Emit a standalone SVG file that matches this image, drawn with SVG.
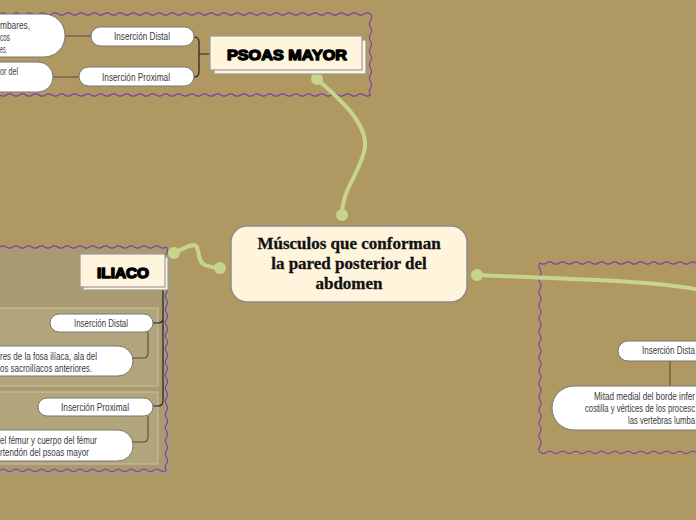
<svg xmlns="http://www.w3.org/2000/svg" width="696" height="520" viewBox="0 0 696 520">
<style>
.wave{fill:none;stroke:#7a3fa3;stroke-width:1.1}
.pill{fill:#fff;stroke:#777;stroke-width:1}
.main{fill:#fff4dc;stroke:#8c8c8c;stroke-width:1.5}
.sh{fill:#fff4dc;stroke:#9a9a9a;stroke-width:1.2}
.t{font-family:"Liberation Sans",Arial,sans-serif;font-size:10px;fill:#3a3a3a}
.h{font-family:"Liberation Sans",Arial,sans-serif;font-weight:bold;fill:#000;stroke:#000;stroke-width:1.4;stroke-linejoin:round}
.c{font-family:"Liberation Serif","Times New Roman",serif;font-weight:bold;font-size:17px;fill:#111;stroke:#111;stroke-width:0.3;text-anchor:middle}
.g{fill:none;stroke:#c6d58c;stroke-width:4;stroke-linecap:round}
.dot{fill:#c6d58c}
.br{fill:none;stroke:#222;stroke-width:1.2}
.ln{fill:none;stroke:#5b4d2e;stroke-width:1.1}
.panel{fill:#b2a47b;stroke:#cdc3a0;stroke-width:1}
</style>
<rect width="696" height="520" fill="#b09863"/>
<g id="frames">
<rect x="0" y="247" width="173" height="230" fill="#a99a71"/>
<rect class="panel" x="-2" y="308" width="160" height="78"/>
<rect class="panel" x="-2" y="392" width="160" height="72"/>
<path class="wave" d="M0,14 q3.25,-2.2 6.5,0 t6.5,0t6.5,0t6.5,0t6.5,0t6.5,0t6.5,0t6.5,0t6.5,0 t6.5,0t6.5,0t6.5,0t6.5,0t6.5,0t6.5,0t6.5,0t6.5,0 t6.5,0t6.5,0t6.5,0t6.5,0t6.5,0t6.5,0t6.5,0t6.5,0 t6.5,0t6.5,0t6.5,0t6.5,0t6.5,0t6.5,0t6.5,0t6.5,0 t6.5,0t6.5,0t6.5,0t6.5,0t6.5,0t6.5,0t6.5,0t6.5,0 t6.5,0t6.5,0t6.5,0t6.5,0t6.5,0t6.5,0t6.5,0t6.5,0 t6.5,0t6.5,0t6.5,0t6.5,0t6.5,0t6.5,0t6.5,0t6.5,0 q2.2,3.375 0,6.75 t0,6.75t0,6.75t0,6.75t0,6.75t0,6.75t0,6.75t0,6.75t0,6.75t0,6.75t0,6.75t0,6.75 q-3.25,2.2 -6.5,0 t-6.5,0t-6.5,0t-6.5,0t-6.5,0t-6.5,0t-6.5,0t-6.5,0t-6.5,0 t-6.5,0t-6.5,0t-6.5,0t-6.5,0t-6.5,0t-6.5,0t-6.5,0t-6.5,0 t-6.5,0t-6.5,0t-6.5,0t-6.5,0t-6.5,0t-6.5,0t-6.5,0t-6.5,0 t-6.5,0t-6.5,0t-6.5,0t-6.5,0t-6.5,0t-6.5,0t-6.5,0t-6.5,0 t-6.5,0t-6.5,0t-6.5,0t-6.5,0t-6.5,0t-6.5,0t-6.5,0t-6.5,0 t-6.5,0t-6.5,0t-6.5,0t-6.5,0t-6.5,0t-6.5,0t-6.5,0t-6.5,0 t-6.5,0t-6.5,0t-6.5,0t-6.5,0t-6.5,0t-6.5,0t-6.5,0t-6.5,0"/>
<path class="wave" d="M0,247 q3.2,-2.2 6.4,0 t6.4,0t6.4,0t6.4,0t6.4,0t6.4,0t6.4,0t6.4,0t6.4,0t6.4,0t6.4,0t6.4,0t6.4,0t6.4,0 t6.4,0t6.4,0t6.4,0t6.4,0t6.4,0t6.4,0t6.4,0t6.4,0t6.4,0t6.4,0t6.4,0t6.4,0 q2.2,3.285 0,6.57 t0,6.57t0,6.57t0,6.57t0,6.57t0,6.57t0,6.57t0,6.57t0,6.57t0,6.57 t0,6.57t0,6.57t0,6.57t0,6.57t0,6.57t0,6.57t0,6.57t0,6.57t0,6.57t0,6.57 t0,6.57t0,6.57t0,6.57t0,6.57t0,6.57t0,6.57t0,6.57t0,6.57t0,6.57t0,6.57 t0,6.57t0,6.57t0,6.57t0,6.57 q-3.2,2.2 -6.4,0 t-6.4,0t-6.4,0t-6.4,0t-6.4,0t-6.4,0t-6.4,0t-6.4,0t-6.4,0t-6.4,0t-6.4,0t-6.4,0t-6.4,0 t-6.4,0t-6.4,0t-6.4,0t-6.4,0t-6.4,0t-6.4,0t-6.4,0t-6.4,0t-6.4,0t-6.4,0t-6.4,0t-6.4,0t-6.4,0"/>
<path class="wave" d="M696,263 q-3.25,-2.2 -6.5,0 t-6.5,0t-6.5,0t-6.5,0t-6.5,0t-6.5,0t-6.5,0t-6.5,0t-6.5,0t-6.5,0t-6.5,0t-6.5,0 t-6.5,0t-6.5,0t-6.5,0t-6.5,0t-6.5,0t-6.5,0t-6.5,0t-6.5,0t-6.5,0t-6.5,0t-6.5,0t-6.5,0 q-2.2,3.265 0,6.53 t0,6.53t0,6.53t0,6.53t0,6.53t0,6.53t0,6.53t0,6.53t0,6.53t0,6.53 t0,6.53t0,6.53t0,6.53t0,6.53t0,6.53t0,6.53t0,6.53t0,6.53t0,6.53t0,6.53 t0,6.53t0,6.53t0,6.53t0,6.53t0,6.53t0,6.53t0,6.53t0,6.53t0,6.53 q3.25,2.2 6.5,0 t6.5,0t6.5,0t6.5,0t6.5,0t6.5,0t6.5,0t6.5,0t6.5,0t6.5,0t6.5,0t6.5,0 t6.5,0t6.5,0t6.5,0t6.5,0t6.5,0t6.5,0t6.5,0t6.5,0t6.5,0t6.5,0t6.5,0t6.5,0"/>
</g>
<g id="connectors">
<path class="g" d="M317,79 C335,95 372,125 364,152 C357,178 342,190 342,215"/>
<path class="g" d="M174,253 C185,248 192,243 196,246 C200,250 197,262 205,265 C210,267 215,268 220,268"/>
<path class="g" d="M477,275 C560,279 650,280 700,290"/>
<circle class="dot" cx="317" cy="79" r="6"/>
<circle class="dot" cx="342" cy="215" r="6"/>
<circle class="dot" cx="174" cy="253" r="6"/>
<circle class="dot" cx="220" cy="268" r="6"/>
<circle class="dot" cx="477" cy="275" r="6"/>
<path class="br" d="M210,54 H199 M194,37 Q199,37 199,42 V72 Q199,77 194,77"/>
<path class="ln" d="M91,36 H65 M79,77 H53"/>
<path class="br" d="M163,289 V401 Q163,406 158,406 H153 M153,323 H158 Q163,323 163,318"/>
<path class="ln" d="M148,332 V353 Q148,358 143,358 H133 M148,416 V437 Q148,442 143,442 H133"/>
<path class="ln" d="M670,361 V386"/>
</g>
<g id="center">
<rect class="main" x="231" y="226" width="236" height="76" rx="16"/>
<text class="c" x="349" y="249">Músculos que conforman</text>
<text class="c" x="349" y="269">la pared posterior del</text>
<text class="c" x="349" y="289">abdomen</text>
</g>
<g id="psoas">
<rect class="sh" x="214" y="40" width="152" height="34"/>
<rect class="sh" x="210" y="36" width="152" height="34"/>
<text class="h" x="227" y="60" font-size="15" textLength="120" lengthAdjust="spacingAndGlyphs">PSOAS MAYOR</text>
</g>
<g id="psoas-distal">
<rect class="pill" x="91" y="27" width="103" height="19" rx="9.5"/>
<text class="t" x="114" y="40" textLength="56" lengthAdjust="spacingAndGlyphs">Inserción Distal</text>
</g>
<g id="psoas-proximal">
<rect class="pill" x="79" y="67" width="115" height="19" rx="9.5"/>
<text class="t" x="102" y="81" textLength="68" lengthAdjust="spacingAndGlyphs">Inserción Proximal</text>
</g>
<g id="psoas-distal-text">
<rect class="pill" x="-60" y="14" width="125" height="43" rx="21"/>
<text class="t" x="0" y="29" textLength="30" lengthAdjust="spacingAndGlyphs">mbares,</text>
<text class="t" x="0" y="41" textLength="10" lengthAdjust="spacingAndGlyphs">cos</text>
<text class="t" x="0" y="53" textLength="7" lengthAdjust="spacingAndGlyphs">es.</text>
</g>
<g id="psoas-proximal-text">
<rect class="pill" x="-60" y="62" width="113" height="30" rx="15"/>
<text class="t" x="0" y="75" textLength="18" lengthAdjust="spacingAndGlyphs">or del</text>
</g>
<g id="iliaco">
<rect class="sh" x="83" y="257" width="85" height="33"/>
<rect class="sh" x="80" y="254" width="85" height="33"/>
<text class="h" x="97" y="278" font-size="14" textLength="52" lengthAdjust="spacingAndGlyphs">ILIACO</text>
</g>
<g id="iliaco-distal">
<rect class="pill" x="50" y="314" width="103" height="18" rx="9"/>
<text class="t" x="74" y="327" textLength="54" lengthAdjust="spacingAndGlyphs">Inserción Distal</text>
</g>
<g id="iliaco-distal-text">
<rect class="pill" x="-60" y="346" width="193" height="30" rx="15"/>
<text class="t" x="0" y="360" textLength="97" lengthAdjust="spacingAndGlyphs">res de la fosa ilíaca, ala del</text>
<text class="t" x="0" y="372" textLength="92" lengthAdjust="spacingAndGlyphs">os sacroilíacos anteriores.</text>
</g>
<g id="iliaco-proximal">
<rect class="pill" x="38" y="398" width="115" height="18" rx="9"/>
<text class="t" x="61" y="411" textLength="68" lengthAdjust="spacingAndGlyphs">Inserción Proximal</text>
</g>
<g id="iliaco-proximal-text">
<rect class="pill" x="-60" y="430" width="193" height="31" rx="15"/>
<text class="t" x="0" y="444" textLength="97" lengthAdjust="spacingAndGlyphs">el fémur y cuerpo del fémur</text>
<text class="t" x="0" y="456" textLength="89" lengthAdjust="spacingAndGlyphs">rtendón del psoas mayor</text>
</g>
<g id="right-distal">
<rect class="pill" x="618" y="341" width="140" height="20" rx="10"/>
<text class="t" x="642" y="354" textLength="53" lengthAdjust="spacingAndGlyphs">Inserción Dista</text>
</g>
<g id="right-distal-text">
<rect class="pill" x="552" y="386" width="210" height="44" rx="22"/>
<text class="t" x="594" y="400" textLength="101" lengthAdjust="spacingAndGlyphs">Mitad medial  del borde  infer</text>
<text class="t" x="585" y="412" textLength="110" lengthAdjust="spacingAndGlyphs">costilla y vértices de los procesc</text>
<text class="t" x="628" y="424" textLength="67" lengthAdjust="spacingAndGlyphs">las vertebras lumba</text>
</g>
</svg>
